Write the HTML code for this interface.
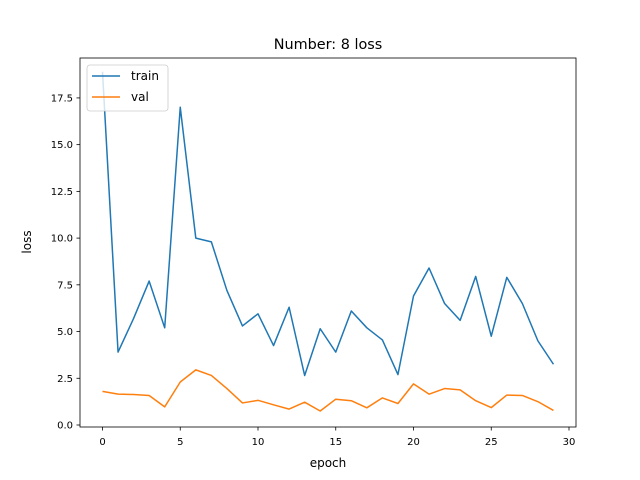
<!DOCTYPE html>
<html><head><meta charset="utf-8"><style>body{margin:0;background:#fff}svg{display:block;font-family:"DejaVu Sans","Liberation Sans",sans-serif}</style></head>
<body>
<svg id="chart" width="640" height="480">
<rect x="0" y="0" width="640" height="480" fill="#fff"/>
<text x="328" y="49" font-size="14.4" text-anchor="middle">Number: 8 loss</text>
<g id="ticks"></g>
<g id="lines"></g>
<rect x="80" y="58" width="496" height="369" fill="none" stroke="#000" stroke-width="0.8"/>
<text x="328" y="467" font-size="12" text-anchor="middle">epoch</text>
<text x="31" y="242" font-size="12" text-anchor="middle" transform="rotate(-90 31 242)">loss</text>
<g>
<rect x="87" y="65" width="81" height="46" rx="3" fill="#fff" fill-opacity="0.8" stroke="#ccc" stroke-width="0.8"/>
<line x1="92" y1="76" x2="120" y2="76" stroke="#1f77b4" stroke-width="1.5"/>
<text x="131" y="80" font-size="12">train</text>
<line x1="92" y1="97" x2="120" y2="97" stroke="#ff7f0e" stroke-width="1.5"/>
<text x="131" y="101" font-size="12">val</text>
</g>
</svg>
<script>
const epochs=[0,1,2,3,4,5,6,7,8,9,10,11,12,13,14,15,16,17,18,19,20,21,22,23,24,25,26,27,28,29];
const trainLoss=[18.9,3.9,5.7,7.7,5.2,17.0,10.0,9.8,7.2,5.3,5.95,4.25,6.3,2.65,5.15,3.9,6.1,5.2,4.55,2.7,6.9,8.4,6.5,5.6,7.95,4.75,7.9,6.5,4.5,3.25];
const valLoss=[1.8,1.65,1.63,1.58,0.97,2.3,2.95,2.65,1.95,1.18,1.32,1.08,0.85,1.22,0.75,1.38,1.3,0.92,1.45,1.15,2.2,1.65,1.95,1.88,1.3,0.93,1.6,1.58,1.25,0.78];
const xTicks=[0,5,10,15,20,25,30];
const yTicks=[0.0,2.5,5.0,7.5,10.0,12.5,15.0,17.5];
const NS='http://www.w3.org/2000/svg';
function xs(v){return 102.5+v*15.55;}
function ys(v){return 425-v*18.69;}
const tg=document.getElementById('ticks');
function mk(t,a){const e=document.createElementNS(NS,t);for(const k in a)e.setAttribute(k,a[k]);return e;}
xTicks.forEach(v=>{
 const l=mk('line',{x1:xs(v),x2:xs(v),y1:427,y2:430.5,stroke:'#000','stroke-width':0.8});
 
 
 tg.appendChild(l);
 const t=mk('text',{x:xs(v),y:445,'font-size':10,'text-anchor':'middle'});t.textContent=v;
 
 
 tg.appendChild(t);
});
yTicks.forEach(v=>{
 const l=mk('line',{x1:76.5,x2:80,y1:ys(v),y2:ys(v),stroke:'#000','stroke-width':0.8});
 
 
 tg.appendChild(l);
 const t=mk('text',{x:73,y:ys(v)+3.5,'font-size':10,'text-anchor':'end'});t.textContent=v.toFixed(1);
 
 
 tg.appendChild(t);
});
const lg=document.getElementById('lines');
function series(d,c,n){
 const p=mk('polyline',{points:d.map((v,i)=>xs(epochs[i])+','+ys(v)).join(' '),fill:'none',stroke:c,'stroke-width':1.5,'stroke-linejoin':'round'});
 
 
 lg.appendChild(p);
}
series(trainLoss,'#1f77b4','train-line');
series(valLoss,'#ff7f0e','val-line');
</script>
</body></html>
